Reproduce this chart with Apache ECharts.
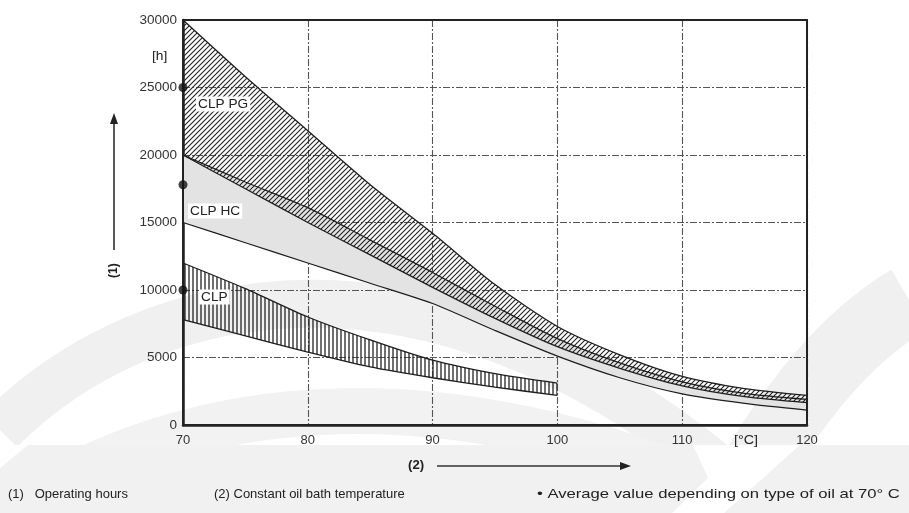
<!DOCTYPE html>
<html><head><meta charset="utf-8">
<script src="https://cdn.jsdelivr.net/npm/echarts@6/dist/echarts.min.js"></script>
<style>html,body{margin:0;padding:0;background:#fff}#c{width:909px;height:513px}</style>
</head><body><div id="c"></div>
<script>
// ---- data ----
const temps = [70, 75, 80, 85, 90, 95, 100, 105, 110, 115, 120];
const pgUpper = [30000, 25800, 21800, 17800, 14200, 10400, 7300, 5200, 3600, 2700, 2200];
const pgLower = [20000, 17500, 15000, 12600, 10200, 7900, 5800, 4200, 2900, 2100, 1650];
const hcUpper = [20000, 18000, 16100, 13700, 11300, 8800, 6400, 4600, 3200, 2350, 1900];
const hcLower = [15000, 13500, 12000, 10500, 9000, 7000, 5100, 3500, 2300, 1600, 1100];
const clpTemps = [70, 75, 80, 85, 90, 95, 100];
const clpUpper = [12000, 10100, 8000, 6300, 4800, 3800, 3100];
const clpLower = [7800, 6600, 5400, 4300, 3500, 2800, 2200];
const avgTemp = [70, 70, 70];
const avgValues = [25000, 17800, 10000];
const xTicks = [70, 80, 90, 100, 110, 120];
const yTicks = [0, 5000, 10000, 15000, 20000, 25000, 30000];

const FONT = "'Liberation Sans',Arial,sans-serif";

function hatch(kind) {
  const c = document.createElement('canvas');
  const s = kind === 'diag' ? 5 : 4;
  c.width = s; c.height = s;
  const g = c.getContext('2d');
  g.strokeStyle = '#222';
  g.lineWidth = kind === 'diag' ? 1.1 : 1.3;
  g.beginPath();
  if (kind === 'diag') {
    g.moveTo(-1, s + 1); g.lineTo(s + 1, -1);
    g.moveTo(-1, 1); g.lineTo(1, -1);
    g.moveTo(s - 1, s + 1); g.lineTo(s + 1, s - 1);
  } else {
    g.moveTo(1, 0); g.lineTo(1, s);
  }
  g.stroke();
  return { image: c, repeat: 'repeat' };
}

const SM = 0.25;
const cats = temps.map(String);
function pairs(xs, ys) { return xs.map((x, i) => [String(x), ys[i]]); }
function band(id, xs, lo, up, fill, z) {
  return [
    { type: 'line', stack: id, data: pairs(xs, lo), symbol: 'none', smooth: SM,
      lineStyle: { opacity: 0 }, z: z, silent: true },
    { type: 'line', stack: id, data: xs.map((x, i) => [String(x), up[i] - lo[i]]), symbol: 'none', smooth: SM,
      lineStyle: { opacity: 0 }, areaStyle: { color: fill, opacity: 1 }, z: z, silent: true }
  ];
}
function edge(xs, ys, z) {
  return { type: 'line', data: pairs(xs, ys), symbol: 'none', smooth: SM,
    lineStyle: { color: '#1e1e1e', width: 1.3 }, z: z, silent: true };
}
function bz(x1, y1, c1x, c1y, c2x, c2y, x2, y2, w, col) {
  return { type: 'bezierCurve', silent: true,
    shape: { x1: x1, y1: y1, cpx1: c1x, cpy1: c1y, cpx2: c2x, cpy2: c2y, x2: x2, y2: y2 },
    style: { fill: null, stroke: col, lineWidth: w } };
}
function txt(x, y, s, size, sx, extra) {
  return Object.assign({ type: 'text', x: x, y: y, scaleX: sx || 1, z: 10, silent: true,
    style: { text: s, fill: '#222', font: size + 'px ' + FONT, verticalAlign: 'middle', align: 'left' } }, extra || {});
}

const chart = echarts.init(document.getElementById('c'), null, { renderer: 'canvas' });
const gridDash = { color: '#555', width: 1.1, type: [7, 2, 2, 2] };

chart.setOption({
  animation: false,
  backgroundColor: '#fff',
  grid: { left: 183, right: 102, top: 20, bottom: 88, show: true, borderColor: '#222', borderWidth: 2, backgroundColor: 'transparent', z: 3 },
  xAxis: {
    type: 'category', data: cats, boundaryGap: false,
    axisLine: { show: true, lineStyle: { color: '#222', width: 2.5 } },
    axisTick: { show: false },
    axisLabel: { color: '#333', fontSize: 13, fontFamily: FONT, margin: 9, interval: 0,
      formatter: v => xTicks.includes(Number(v)) ? v : '' },
    splitLine: { show: true, interval: 1, lineStyle: gridDash }
  },
  yAxis: {
    type: 'value', min: 0, max: 30000, interval: 5000,
    axisLine: { show: true, lineStyle: { color: '#222', width: 2.5 } },
    axisTick: { show: false },
    axisLabel: { color: '#333', fontSize: 13.5, fontFamily: FONT, margin: 6,
      formatter: v => yTicks.includes(v) ? String(v) : '' },
    splitLine: { show: true, lineStyle: gridDash }
  },
  graphic: [
    // light watermark background
    { type: 'group', z: -10, silent: true, children: [
      bz(0, 430, 150, 280, 430, 230, 720, 470, 48, '#f0f0f0'),
      bz(0, 520, 180, 390, 460, 360, 780, 520, 46, '#f2f2f2'),
      bz(909, 300, 840, 340, 780, 420, 730, 513, 70, '#f0f0f0'),
      { type: 'rect', silent: true, shape: { x: 0, y: 445, width: 909, height: 68 }, style: { fill: '#f1f1f1' } },
      { type: 'polygon', silent: true, shape: { points: [[693, 445], [800, 445], [724, 513], [672, 513], [708, 478]] }, style: { fill: '#fff' } },
      { type: 'polygon', silent: true, shape: { points: [[0, 445], [28, 445], [0, 468]] }, style: { fill: '#fff' } }
    ]},
    txt(152, 57, '[h]', 12, 1.15),
    txt(734, 440, '[°C]', 13, 1.1),
    // y-axis arrow and (1)
    { type: 'line', z: 10, shape: { x1: 114, y1: 250, x2: 114, y2: 122 }, style: { stroke: '#222', lineWidth: 1.5 } },
    { type: 'polygon', z: 10, shape: { points: [[110, 124], [118, 124], [114, 113]] }, style: { fill: '#222' } },
    { type: 'text', x: 108, y: 278, rotation: Math.PI / 2, z: 10, style: { text: '(1)', fill: '#222', font: 'bold 12px ' + FONT } },
    // x-axis arrow and (2)
    txt(408, 466, '(2)', 12, 1.1, { style: { text: '(2)', fill: '#222', font: 'bold 12px ' + FONT, verticalAlign: 'middle' } }),
    { type: 'line', z: 10, shape: { x1: 437, y1: 466, x2: 622, y2: 466 }, style: { stroke: '#333', lineWidth: 1.6 } },
    { type: 'polygon', z: 10, shape: { points: [[620, 462], [620, 470], [631, 466]] }, style: { fill: '#222' } },
    // band labels
    txt(196, 104, 'CLP PG', 13, 1.05, { z: 20, style: { text: 'CLP PG', fill: '#222', font: '13px ' + FONT, backgroundColor: '#fff', padding: [1, 2], verticalAlign: 'middle' } }),
    txt(188, 211, 'CLP HC', 13, 1.05, { z: 20, style: { text: 'CLP HC', fill: '#222', font: '13px ' + FONT, backgroundColor: '#fff', padding: [1, 2], verticalAlign: 'middle' } }),
    txt(199, 297, 'CLP', 13, 1.05, { z: 20, style: { text: 'CLP', fill: '#222', font: '13px ' + FONT, backgroundColor: '#fff', padding: [1, 2], verticalAlign: 'middle' } }),
    // footnotes
    txt(8, 494, '(1)   Operating hours', 13, 1.0),
    txt(214, 494, '(2) Constant oil bath temperature', 13, 1.0),
    txt(537, 494, '\u2022 Average value depending on type of oil at 70\u00b0 C', 13, 1.28)
  ],
  series: [].concat(
    band('hc', temps, hcLower, hcUpper, '#e3e3e3', 2),
    band('pg', temps, pgLower, pgUpper, hatch('diag'), 3),
    band('clp', clpTemps, clpLower, clpUpper, hatch('vert'), 3),
    [
      edge(temps, pgUpper, 5), edge(temps, pgLower, 5),
      edge(temps, hcUpper, 5), edge(temps, hcLower, 5),
      edge(clpTemps, clpUpper, 5), edge(clpTemps, clpLower, 5),
      { type: 'scatter', data: pairs(avgTemp, avgValues), symbolSize: 9, clip: false,
        itemStyle: { color: '#111' }, z: 8, silent: true }
    ]
  )
});
</script></body></html>
